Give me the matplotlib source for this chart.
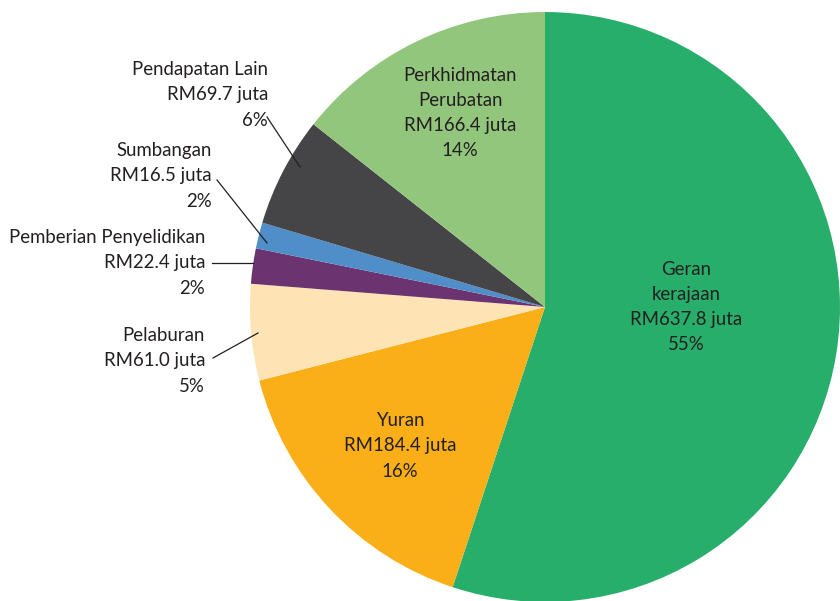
import matplotlib
matplotlib.use('Agg')
import matplotlib.pyplot as plt

# Data, clockwise from 12 o'clock
names = ['Geran\nkerajaan', 'Yuran', 'Pelaburan', 'Pemberian Penyelidikan',
         'Sumbangan', 'Pendapatan Lain', 'Perkhidmatan\nPerubatan']
amounts = [637.8, 184.4, 61.0, 22.4, 16.5, 69.7, 166.4]
pct_labels = ['55%', '16%', '5%', '2%', '2%', '6%', '14%']
colors = ['#27AE6A', '#FAAF19', '#FEE3B5', '#6B3470', '#4F8EC9', '#454547', '#93C67D']

plt.rcParams['font.family'] = ['Lato', 'DejaVu Sans']
txt_color = '#231F20'

fig = plt.figure(figsize=(8.4, 6.01), dpi=100)
# pie centre at (545, 307) px, radius 295 px
W, H, R = 840, 601, 295
cx, cy = 545, 307
ax = fig.add_axes([(cx - R) / W, (H - cy - R) / H, 2 * R / W, 2 * R / H])

ax.pie(amounts, colors=colors, startangle=90, counterclock=False, radius=1,
       wedgeprops=dict(linewidth=0))
ax.set_xlim(-1, 1)
ax.set_ylim(-1, 1)
ax.set_aspect('equal')
ax.axis('off')


def px(x, y):
    # pixel position -> data coordinates
    return (x - cx) / R, (cy - y) / R


def label_text(i):
    return f'{names[i]}\nRM{amounts[i]:.1f} juta\n{pct_labels[i]}'


fs = 13.4
ls = 1.58

# labels inside the slices
for i, pos in [(0, (686, 307)), (1, (400, 446)), (6, (460, 113))]:
    x, y = px(*pos)
    ax.text(x, y, label_text(i), ha='center', va='center', fontsize=fs,
            color=txt_color, linespacing=ls)

# labels outside with leader lines: (index, text right edge/centre, line start, line end)
outside = [
    (5, (268, 95), (267, 117), (300, 167)),
    (4, (212, 176), (217, 180), (267, 243)),
    (3, (205, 263), (212, 263), (253, 263)),
    (2, (205, 361), (213, 358), (258, 333)),
]
for i, tpos, p0, p1 in outside:
    x, y = px(*tpos)
    ax.text(x, y, label_text(i), ha='right', va='center', fontsize=fs,
            color=txt_color, linespacing=ls, clip_on=False)
    x0, y0 = px(*p0)
    x1, y1 = px(*p1)
    ax.plot([x0, x1], [y0, y1], color='#231F20', lw=0.9, clip_on=False)

fig.savefig('out.png', dpi=100)
